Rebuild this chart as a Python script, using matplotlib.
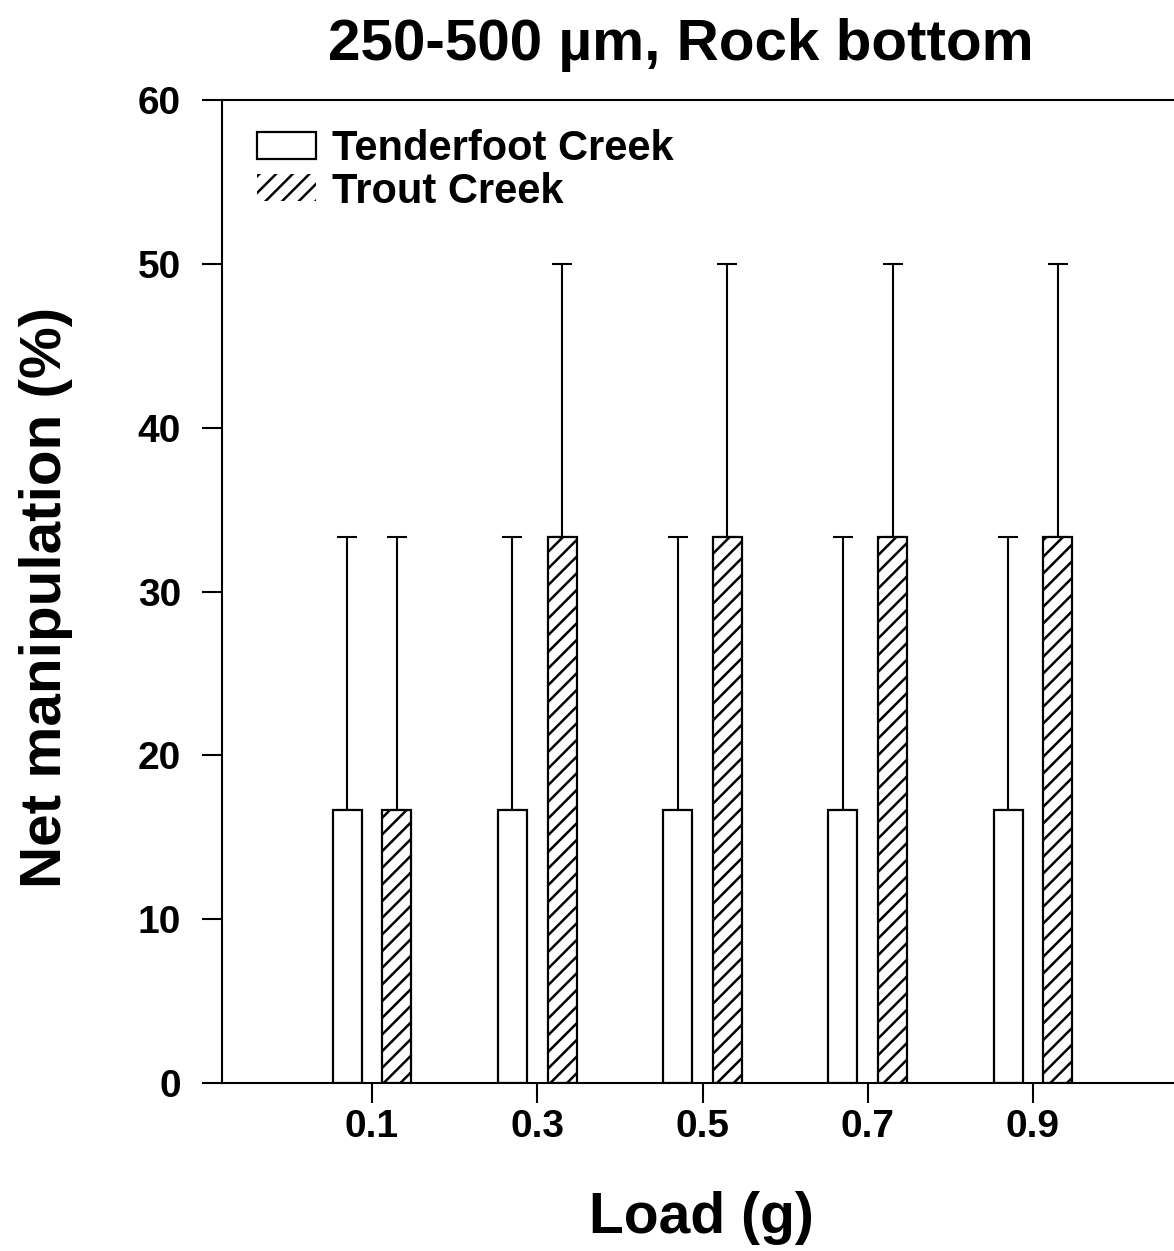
import numpy as np
import matplotlib
matplotlib.use("Agg")
import matplotlib.pyplot as plt
from matplotlib.patches import Patch

# data
loads = [0.1, 0.3, 0.5, 0.7, 0.9]
tenderfoot = [16.67, 16.67, 16.67, 16.67, 16.67]
tenderfoot_err = [16.67, 16.67, 16.67, 16.67, 16.67]
trout = [16.67, 33.33, 33.33, 33.33, 33.33]
trout_err = [16.67, 16.67, 16.67, 16.67, 16.67]
series_names = ["Tenderfoot Creek", "Trout Creek"]

plt.rcParams['font.family'] = ['Liberation Sans', 'DejaVu Sans']
plt.rcParams['font.weight'] = 'bold'
plt.rcParams['hatch.linewidth'] = 1.8

fig = plt.figure(figsize=(11.74, 12.51), dpi=100)
ax = fig.add_axes([222 / 1174, 1 - 1083 / 1251, 1 - 222 / 1174, (1083 - 100) / 1251])

x = np.array(loads)
w = 0.035
off = 0.030

ax.bar(x - off, tenderfoot, w, color='white', edgecolor='black', linewidth=1.6, zorder=2)
ax.bar(x + off, trout, w, color='white', edgecolor='black', linewidth=1.6, hatch='//', zorder=2)

# upper error bars only
ax.errorbar(x - off, tenderfoot, yerr=[np.zeros(len(x)), tenderfoot_err], fmt='none',
            ecolor='black', elinewidth=1.5, capsize=7, capthick=1.5, zorder=1)
ax.errorbar(x + off, trout, yerr=[np.zeros(len(x)), trout_err], fmt='none',
            ecolor='black', elinewidth=1.5, capsize=7, capthick=1.5, zorder=1)

ax.set_xlim(-0.0816, 1.0707)
ax.set_ylim(0, 60)
ax.set_xticks(loads)
ax.set_xticklabels([f"{v:.1f}" for v in loads])
ax.set_yticks(np.arange(0, 61, 10))

ax.spines['right'].set_visible(False)
for s in ['left', 'bottom', 'top']:
    ax.spines[s].set_linewidth(1.5)

ax.tick_params(axis='both', direction='out', length=14.4, width=1.5, labelsize=28)
ax.tick_params(axis='y', pad=15)
ax.tick_params(axis='x', pad=4)
ax.tick_params(axis='x', top=False)

ax.set_title("250-500 µm, Rock bottom", fontsize=42, fontweight='bold', x=0.482, pad=29)
ax.set_xlabel("Load (g)", fontsize=41, fontweight='bold')
ax.xaxis.set_label_coords(0.504, -0.110)
ax.set_ylabel("Net manipulation (%)", fontsize=42, fontweight='bold')
ax.yaxis.set_label_coords(-0.156, 0.494)

handles = [Patch(facecolor='white', edgecolor='black', linewidth=1.6),
           Patch(facecolor='white', edgecolor='black', linewidth=0, hatch='//')]
ax.legend(handles, series_names, loc='upper left', bbox_to_anchor=(0.037, 0.970),
          frameon=False, handlelength=1.42, handleheight=0.62,
          handletextpad=0.38, labelspacing=0.05, borderpad=0, borderaxespad=0,
          prop={'weight': 'bold', 'size': 30})

fig.savefig("out.png", dpi=100)
